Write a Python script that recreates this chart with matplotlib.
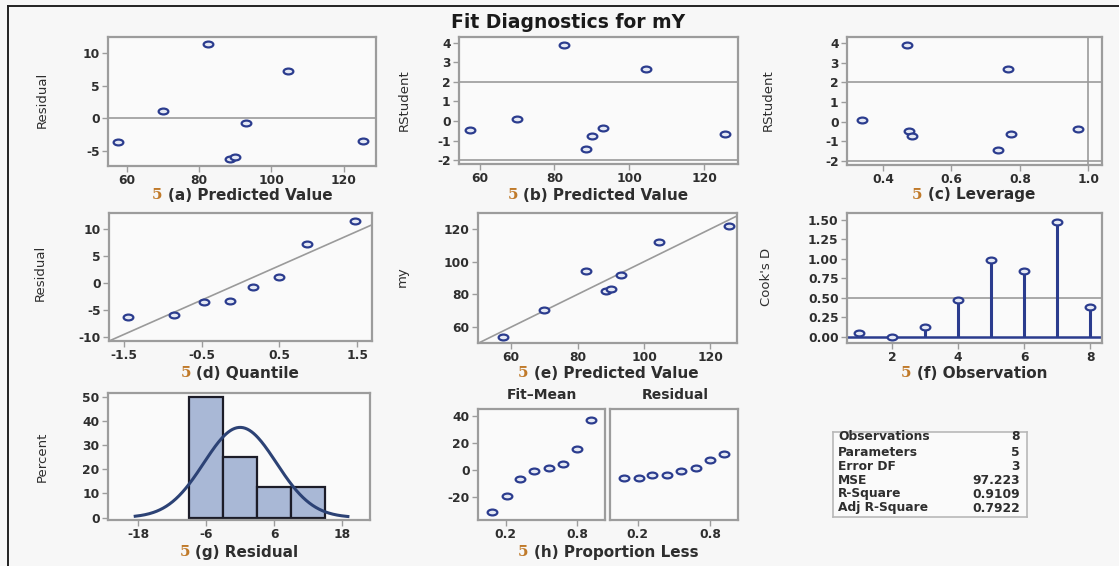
import numpy as np
import matplotlib
matplotlib.use("Agg")
import matplotlib.pyplot as plt
from matplotlib.path import Path
from matplotlib.transforms import Affine2D
from matplotlib.lines import Line2D

plt.rcParams["axes.unicode_minus"] = False

# ---------------- data ----------------
pred = [57.5, 70.0, 82.5, 88.5, 90.0, 93.0, 104.5, 125.5]
resid = [-3.6, 1.1, 11.5, -6.3, -5.9, -0.7, 7.3, -3.4]
rstudent = [-0.45, 0.10, 3.90, -1.45, -0.75, -0.35, 2.65, -0.65]
leverage = [0.475, 0.34, 0.47, 0.735, 0.485, 0.97, 0.765, 0.775]
observed = [54.0, 70.5, 94.0, 82.0, 83.5, 92.0, 112.0, 122.0]
quantiles = [-1.44, -0.85, -0.47, -0.14, 0.16, 0.49, 0.86, 1.47]
observation = [1, 2, 3, 4, 5, 6, 7, 8]
cooks_d = [0.05, 0.0, 0.13, 0.47, 0.99, 0.84, 1.47, 0.38]
prop_less = [0.09, 0.21, 0.32, 0.44, 0.56, 0.68, 0.80, 0.91]
hist_bins = [-9, -3, 3, 9, 15]
stat_names = ["Observations", "Parameters", "Error DF", "MSE", "R-Square", "Adj R-Square"]
stat_values = ["8", "5", "3", "97.223", "0.9109", "0.7922"]

W, H = 1119, 566
BG = "#f7f7f7"
AXBG = "#fafafa"
SPINE = "#9c9c9c"
REF = "#9a9a9a"
BLUE = "#2b3c8e"
TXT = "#2e2e2e"
ORANGE = "#c07a2a"
TICKFS = 8.8

fig = plt.figure(figsize=(W / 100, H / 100), dpi=100, facecolor=BG)

ell = Path.unit_circle().transformed(Affine2D().scale(1.0, 0.6))


def box(l, r, t, b):
    return [l / W, 1 - b / H, (r - l) / W, (b - t) / H]


def style(ax, xt=None, yt=None, xl=None, yl=None):
    ax.set_facecolor(AXBG)
    for s in ax.spines.values():
        s.set_color(SPINE)
        s.set_linewidth(1.6)
    ax.tick_params(direction="out", length=4, width=1, color=SPINE,
                   labelsize=TICKFS, labelcolor=TXT, pad=2)
    if xt is not None:
        ax.set_xticks(xt)
    if yt is not None:
        ax.set_yticks(yt)
    if xl is not None:
        ax.set_xlim(xl)
    if yl is not None:
        ax.set_ylim(yl)
    for lab in ax.get_xticklabels() + ax.get_yticklabels():
        lab.set_fontweight("bold")


def pts(ax, x, y):
    ax.plot(x, y, linestyle="none", marker=ell, markersize=7,
            markerfacecolor="#e4e8f4", markeredgecolor=BLUE, markeredgewidth=1.6,
            zorder=5)


def ylabel(x, y, s):
    fig.text(x / W, 1 - y / H, s, rotation=90, ha="center", va="center",
             fontsize=9.5, color=TXT, family=["Liberation Sans Narrow", "DejaVu Sans"])


labels = []


def xlabel(xc, y, letter, rest):
    labels.append((xc, y, letter, rest))


# (a) Residual vs Predicted
ax = fig.add_axes(box(108, 376, 37, 166))
ax.axhline(0, color=REF, lw=1.2)
pts(ax, pred, resid)
style(ax, [60, 80, 100, 120], [-5, 0, 5, 10], (54.7, 129), (-7.3, 12.5))
ylabel(42, 100, "Residual")
xlabel(242, 195, "(a)", "Predicted Value")

# (b) RStudent vs Predicted
ax = fig.add_axes(box(459, 738, 37, 164))
ax.axhline(2, color=REF, lw=1.2)
ax.axhline(-2, color=REF, lw=1.2)
pts(ax, pred, rstudent)
style(ax, [60, 80, 100, 120], [-2, -1, 0, 1, 2, 3, 4], (54.5, 129), (-2.2, 4.3))
ylabel(404, 100, "RStudent")
xlabel(598, 195, "(b)", "Predicted Value")

# (c) RStudent vs Leverage
ax = fig.add_axes(box(847, 1102, 37, 165))
ax.axhline(2, color=REF, lw=1.2)
ax.axhline(-2, color=REF, lw=1.2)
ax.axvline(1.0, color=REF, lw=1.2)
pts(ax, leverage, rstudent)
style(ax, [0.4, 0.6, 0.8, 1.0], [-2, -1, 0, 1, 2, 3, 4], (0.295, 1.04), (-2.2, 4.3))
ax.xaxis.set_major_formatter(matplotlib.ticker.FormatStrFormatter("%.1f"))
for lab in ax.get_xticklabels():
    lab.set_fontweight("bold")
ylabel(768, 100, "RStudent")
xlabel(974, 195, "(c)", "Leverage")

# (d) QQ plot
ax = fig.add_axes(box(109, 372, 213, 341))
sr = np.sort(resid)
mu, sd = np.mean(resid), np.std(resid, ddof=1)
qx = np.array([-1.69, 1.69])
ax.plot(qx, mu + sd * qx, color=REF, lw=1.2)
pts(ax, quantiles, sr)
style(ax, [-1.5, -0.5, 0.5, 1.5], [-10, -5, 0, 5, 10], (-1.69, 1.69), (-10.8, 13))
ylabel(40, 273, "Residual")
xlabel(240, 373, "(d)", "Quantile")

# (e) observed vs predicted
ax = fig.add_axes(box(478, 737, 213, 343))
ax.plot([50, 130], [50, 130], color=REF, lw=1.2)
pts(ax, pred, observed)
style(ax, [60, 80, 100, 120], [60, 80, 100, 120], (50, 128), (50.2, 129.8))
ylabel(402, 277, "my")
xlabel(608, 373, "(e)", "Predicted Value")

# (f) Cook's D
ax = fig.add_axes(box(847, 1102, 213, 343))
ax.axhline(0.5, color=REF, lw=1.2)
ax.axhline(0, color=BLUE, lw=1.8)
ax.vlines(observation, 0, cooks_d, color=BLUE, lw=2.2)
pts(ax, observation, cooks_d)
style(ax, [2, 4, 6, 8], [0, 0.25, 0.5, 0.75, 1.0, 1.25, 1.5], (0.64, 8.36), (-0.08, 1.59))
ax.yaxis.set_major_formatter(matplotlib.ticker.FormatStrFormatter("%.2f"))
for lab in ax.get_yticklabels():
    lab.set_fontweight("bold")
ylabel(767, 277, "Cook's D")
xlabel(974, 373, "(f)", "Observation")

# (g) histogram
ax = fig.add_axes(box(108, 370, 393, 520))
wts = np.full(len(resid), 100.0 / len(resid))
ax.hist(resid, bins=hist_bins, weights=wts, color="#a9b8d6",
        edgecolor="#1c1c28", linewidth=1.6)
gx = np.linspace(-18.5, 19, 200)
gy = 100 * (hist_bins[1] - hist_bins[0]) * np.exp(-0.5 * ((gx - mu) / sd) ** 2) / (sd * np.sqrt(2 * np.pi))
ax.plot(gx, gy, color="#2c4275", lw=2.2)
style(ax, [-18, -6, 6, 18], [0, 10, 20, 30, 40, 50], (-23.3, 22.9), (-1, 51.7))
ylabel(42, 457, "Percent")
xlabel(239, 552, "(g)", "Residual")

# (h) residual-fit spread
fm = np.sort(np.array(pred) - np.mean(pred))
ax1 = fig.add_axes(box(478, 605, 409, 520))
pts(ax1, prop_less, fm)
style(ax1, [0.2, 0.8], [-20, 0, 20, 40], (-0.03, 1.03), (-37, 45))
ax2 = fig.add_axes(box(610, 738, 409, 520))
pts(ax2, prop_less, sr)
style(ax2, [0.2, 0.8], [-20, 0, 20, 40], (-0.03, 1.03), (-37, 45))
ax2.tick_params(axis="y", left=False, labelleft=False)
fig.text(542 / W, 1 - 395 / H, "Fit\u2013Mean", ha="center", va="center",
         fontsize=10, fontweight="bold", color=TXT)
fig.text(675 / W, 1 - 395 / H, "Residual", ha="center", va="center",
         fontsize=10, fontweight="bold", color=TXT)
xlabel(608, 552, "(h)", "Proportion Less")

# stats table
tb = fig.add_axes(box(833, 1027, 432, 517))
tb.set_xticks([])
tb.set_yticks([])
tb.set_facecolor(AXBG)
for s in tb.spines.values():
    s.set_color("#b8b8b8")
    s.set_linewidth(1.2)
row_y = [437, 452, 466, 480, 494, 508]
for name, val, yy in zip(stat_names, stat_values, row_y):
    fig.text(838 / W, 1 - yy / H, name, ha="left", va="center", fontsize=8.8,
             fontweight="bold", color=TXT)
    fig.text(1020 / W, 1 - yy / H, val, ha="right", va="center", fontsize=8.8,
             fontweight="bold", color=TXT)

# title
fig.text(568 / W, 1 - 22 / H, "Fit Diagnostics for mY", ha="center", va="center",
         fontsize=13.5, fontweight="bold", color="#1a1a1a")

# border lines
fig.add_artist(Line2D([8 / W, 1], [1 - 6 / H, 1 - 6 / H], color="#222222", lw=1.4))
fig.add_artist(Line2D([8 / W, 8 / W], [0, 1 - 6 / H], color="#222222", lw=1.4))

# multi-colour x labels
fig.canvas.draw()
r = fig.canvas.get_renderer()
for xc, y, letter, rest in labels:
    t5 = fig.text(0, 0, "5 ", fontsize=11, color=ORANGE, fontweight="bold",
                  family="DejaVu Serif", va="center", ha="left")
    tr = fig.text(0, 0, letter + " " + rest, fontsize=11, color=TXT,
                  fontweight="bold", va="center", ha="left")
    w5 = t5.get_window_extent(r).width
    wr = tr.get_window_extent(r).width
    left = xc - (w5 + wr) / 2
    t5.set_position((left / W, 1 - y / H))
    tr.set_position(((left + w5) / W, 1 - y / H))

fig.savefig("out.png", dpi=100, facecolor=BG)
